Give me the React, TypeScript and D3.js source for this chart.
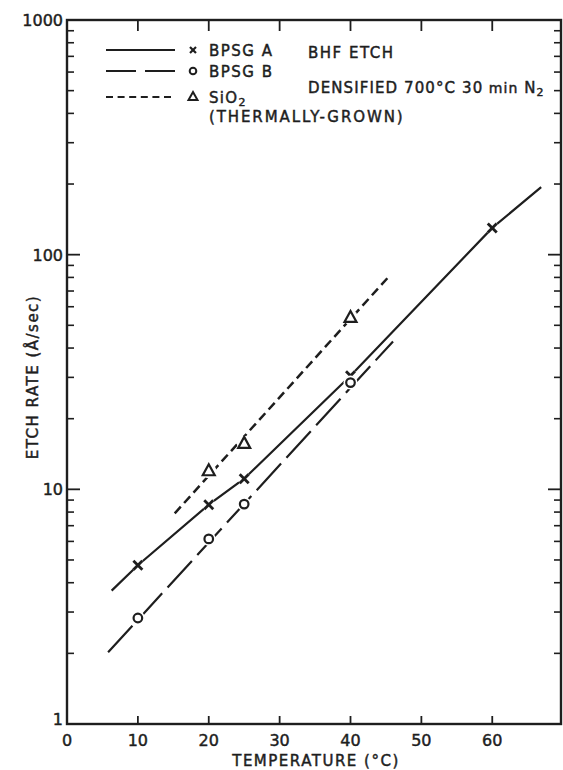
import React from "react";
import * as d3 from "d3";

// ---- data ----
const tempA = [10, 20, 25, 40, 60];
const rateA = [4.75, 8.6, 11.1, 30.5, 130];
const tempB = [10, 20, 25, 40];
const rateB = [2.83, 6.15, 8.65, 28.5];
const tempS = [20, 25, 40];
const rateS = [12.0, 15.7, 54];

// drawn trend lines (start, through points, end)
const lineTempA = [6.3, 10, 20, 25, 40, 60, 66.9];
const lineRateA = [3.7, 4.75, 8.6, 11.1, 30.5, 130, 194];
const lineTempB = [5.8, 46];
const lineRateB = [2.02, 42.7];
const lineTempS = [15.2, 45.3];
const lineRateS = [7.9, 80];

const xTicks = [0, 10, 20, 30, 40, 50, 60];
const yMajor = [1, 10, 100, 1000];
const yLabels = ["1", "10", "100", "1000"];

const W = 563;
const H = 770;
const INK = "#1e1e1e";
const FONT = "DejaVu Sans, Verdana, sans-serif";

export default function App() {
  const x = d3.scaleLinear().domain([0, 69.7]).range([67, 561]);
  const y = d3.scaleLog().domain([1, 1000]).range([724, 20]);

  const minor: number[] = [];
  for (let dec = 1; dec < 1000; dec *= 10) {
    for (let m = 2; m <= 9; m++) minor.push(dec * m);
  }

  const line = d3
    .line<[number, number]>()
    .x((d) => x(d[0]))
    .y((d) => y(d[1]));

  const zip = (a: number[], b: number[]) =>
    a.map((v, i) => [v, b[i]] as [number, number]);

  const left = x.range()[0];
  const right = x.range()[1];
  const top = y.range()[1];
  const bottom = y.range()[0];

  const cross = (cx: number, cy: number, k: string) => (
    <g key={k}>
      <circle cx={cx} cy={cy} r={6.5} fill="#fff" />
      <line x1={cx - 4.5} y1={cy - 4.5} x2={cx + 4.5} y2={cy + 4.5} stroke={INK} strokeWidth={2.8} />
      <line x1={cx - 4.5} y1={cy + 4.5} x2={cx + 4.5} y2={cy - 4.5} stroke={INK} strokeWidth={2.8} />
    </g>
  );
  const circ = (cx: number, cy: number, k: string) => (
    <g key={k}>
      <circle cx={cx} cy={cy} r={7} fill="#fff" />
      <circle cx={cx} cy={cy} r={4.3} fill="#fff" stroke={INK} strokeWidth={2.2} />
    </g>
  );
  const tri = (cx: number, cy: number, k: string) => (
    <g key={k}>
      <circle cx={cx} cy={cy} r={7.5} fill="#fff" />
      <path
        d={`M${cx},${cy - 6.5} L${cx + 6},${cy + 4.5} L${cx - 6},${cy + 4.5} Z`}
        fill="#fff"
        stroke={INK}
        strokeWidth={2.2}
      />
    </g>
  );

  const txt = {
    fontFamily: FONT,
    fill: INK,
    stroke: INK,
    strokeWidth: 0.45,
  } as const;

  return (
    <svg
      width={W}
      height={H}
      style={{ position: "absolute", left: 0, top: 0, background: "#fff" }}
    >
      <rect x={0} y={0} width={W} height={H} fill="#fff" />

      {/* frame */}
      <rect
        x={left}
        y={top}
        width={right - left}
        height={bottom - top}
        fill="none"
        stroke={INK}
        strokeWidth={2.4}
      />

      {/* x ticks bottom + top */}
      {xTicks.slice(1).map((t) => (
        <g key={"xt" + t}>
          <line x1={x(t)} x2={x(t)} y1={bottom} y2={bottom - 8} stroke={INK} strokeWidth={1.8} />
          <line x1={x(t)} x2={x(t)} y1={top} y2={top + 11} stroke={INK} strokeWidth={1.8} />
        </g>
      ))}
      {xTicks.map((t) => (
        <text
          key={"xl" + t}
          x={x(t)}
          y={746}
          textAnchor="middle"
          fontSize={16}
          {...txt}
        >
          {t}
        </text>
      ))}

      {/* y ticks */}
      {yMajor.map((v, i) => (
        <g key={"ym" + v}>
          <line x1={left} x2={left + 13} y1={y(v)} y2={y(v)} stroke={INK} strokeWidth={1.8} />
          <line x1={right} x2={right - 13} y1={y(v)} y2={y(v)} stroke={INK} strokeWidth={1.8} />
          <text
            x={left - 4}
            y={y(v) + (i === 0 ? 1 : 6)}
            textAnchor="end"
            fontSize={16}
            {...txt}
          >
            {yLabels[i]}
          </text>
        </g>
      ))}
      {minor.map((v) => (
        <g key={"yn" + v}>
          <line x1={left} x2={left + 7} y1={y(v)} y2={y(v)} stroke={INK} strokeWidth={1.6} />
          <line x1={right} x2={right - 7} y1={y(v)} y2={y(v)} stroke={INK} strokeWidth={1.6} />
        </g>
      ))}

      {/* axis titles */}
      <text
        x={316}
        y={766}
        textAnchor="middle"
        fontSize={15}
        letterSpacing={1.5}
        {...txt}
      >
        TEMPERATURE (°C)
      </text>
      <text
        transform={`translate(38,377) rotate(-90)`}
        textAnchor="middle"
        fontSize={15}
        letterSpacing={1.5}
        {...txt}
      >
        ETCH RATE (Å/sec)
      </text>

      {/* trend lines */}
      <path
        d={line(zip(lineTempA, lineRateA)) || ""}
        fill="none"
        stroke={INK}
        strokeWidth={2.2}
      />
      <path
        d={line(zip(lineTempB, lineRateB)) || ""}
        fill="none"
        stroke={INK}
        strokeWidth={2.2}
        strokeDasharray="36,8"
      />
      <path
        d={line(zip(lineTempS, lineRateS)) || ""}
        fill="none"
        stroke={INK}
        strokeWidth={2.5}
        strokeDasharray="9,5"
      />

      {/* markers */}
      {tempA.map((t, i) => cross(x(t), y(rateA[i]), "a" + i))}
      {tempB.map((t, i) => circ(x(t), y(rateB[i]), "b" + i))}
      {tempS.map((t, i) => tri(x(t), y(rateS[i]), "s" + i))}

      {/* legend */}
      <g>
        <line x1={106} x2={175} y1={50} y2={50} stroke={INK} strokeWidth={2.2} />
        <line x1={106} x2={175} y1={71} y2={71} stroke={INK} strokeWidth={2.2} strokeDasharray="30,9" />
        <line x1={106} x2={175} y1={97} y2={97} stroke={INK} strokeWidth={2.2} strokeDasharray="7,4.6" />
        <line x1={190} y1={47} x2={196} y2={53} stroke={INK} strokeWidth={2.2} />
        <line x1={190} y1={53} x2={196} y2={47} stroke={INK} strokeWidth={2.2} />
        <circle cx={193} cy={71} r={3.3} fill="#fff" stroke={INK} strokeWidth={2} />
        <path d="M193,92 L197.5,100 L188.5,100 Z" fill="#fff" stroke={INK} strokeWidth={2} />
        <text x={209} y={56} fontSize={15} letterSpacing={1.5} {...txt}>
          BPSG A
        </text>
        <text x={209} y={77} fontSize={15} letterSpacing={1.5} {...txt}>
          BPSG B
        </text>
        <text x={209} y={103} fontSize={15} letterSpacing={1.3} {...txt}>
          SiO
          <tspan fontSize={11} dy={3}>
            2
          </tspan>
        </text>
        <text x={209} y={122} fontSize={15} letterSpacing={1.9} {...txt}>
          (THERMALLY-GROWN)
        </text>
        <text x={308} y={58} fontSize={15} letterSpacing={1.5} {...txt}>
          BHF ETCH
        </text>
        <text x={308} y={93} fontSize={15} letterSpacing={1.1} {...txt}>
          DENSIFIED 700°C 30
          <tspan fontSize={14}> min </tspan>
          N
          <tspan fontSize={11} dy={3}>
            2
          </tspan>
        </text>
      </g>
    </svg>
  );
}
